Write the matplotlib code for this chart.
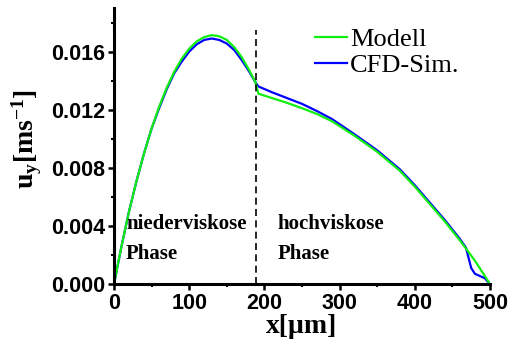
import numpy as np
import matplotlib
matplotlib.use('Agg')
import matplotlib.pyplot as plt
from matplotlib.ticker import MultipleLocator, FormatStrFormatter

plt.rcParams['mathtext.fontset'] = 'custom'
plt.rcParams['mathtext.rm'] = 'Liberation Serif'
plt.rcParams['mathtext.bf'] = 'Liberation Serif:bold'
plt.rcParams['mathtext.it'] = 'Liberation Serif:italic'

# Modell (green)
x_mod = [0, 10, 20, 30, 40, 50, 60, 70, 80, 90, 100, 110, 120, 130, 140,
         150, 160, 170, 180, 188, 192, 210, 230, 250, 270, 290, 320, 350,
         380, 400, 420, 440, 460, 470, 480, 490, 500]
u_mod = [0.0, 0.0026, 0.0050, 0.0071, 0.0090, 0.0107, 0.0122, 0.0135,
         0.0146, 0.0155, 0.0162, 0.0167, 0.0170, 0.01713, 0.01705, 0.0168,
         0.0163, 0.0156, 0.0147, 0.0139, 0.0131, 0.0128, 0.01247, 0.0121,
         0.0117, 0.0112, 0.0102, 0.0091, 0.0078, 0.0067, 0.0055, 0.0043,
         0.0030, 0.0023, 0.0016, 0.0008, 0.0]

# CFD-Sim. (blue)
x_cfd = [0, 10, 20, 30, 40, 50, 60, 70, 80, 90, 100, 110, 120, 130, 140,
         150, 160, 170, 180, 188, 192, 210, 230, 250, 270, 290, 320, 350,
         380, 400, 420, 440, 460, 468, 475, 480, 493, 500]
u_cfd = [0.0, 0.0026, 0.0050, 0.0071, 0.0090, 0.0107, 0.0121, 0.0134,
         0.0145, 0.0153, 0.0160, 0.0165, 0.0168, 0.0169, 0.0168, 0.01655,
         0.0161, 0.0154, 0.0146, 0.0139, 0.0136, 0.0132, 0.0128, 0.0124,
         0.0119, 0.01135, 0.0103, 0.0092, 0.0079, 0.0068, 0.0056, 0.0044,
         0.0031, 0.0025, 0.0011, 0.0007, 0.0004, 0.0]

# phase boundary
x_boundary = 189
u_boundary_top = 0.0175

fig = plt.figure(figsize=(5.14, 3.47), dpi=100)
ax = fig.add_axes([0.2218, 0.1816, 0.7315, 0.7954])

l_cfd, = ax.plot(x_cfd, u_cfd, color='#0000ff', lw=1.6, label='CFD-Sim.')
l_mod, = ax.plot(x_mod, u_mod, color='#11ee11', lw=1.6, label='Modell')
ax.plot([x_boundary, x_boundary], [0, u_boundary_top], color='black',
        lw=1.2, dashes=(4.2, 2.6))

ax.set_xlim(0, 500)
ax.set_ylim(0, 0.019)
ax.xaxis.set_major_locator(MultipleLocator(100))
ax.xaxis.set_minor_locator(MultipleLocator(50))
ax.yaxis.set_major_locator(MultipleLocator(0.004))
ax.yaxis.set_minor_locator(MultipleLocator(0.002))
ax.yaxis.set_major_formatter(FormatStrFormatter('%.3f'))

for s in ['top', 'right']:
    ax.spines[s].set_visible(False)
for s in ['left', 'bottom']:
    ax.spines[s].set_linewidth(2.2)

ax.tick_params(which='major', direction='out', length=4, width=1.8, pad=2.5)
ax.tick_params(which='minor', direction='out', length=2.5, width=1.5)
for lab in ax.get_xticklabels() + ax.get_yticklabels():
    lab.set_fontfamily('Liberation Sans')
    lab.set_fontweight('bold')
    lab.set_fontsize(15.5)

ax.set_xlabel('x[\u00b5m]', family='Liberation Serif', fontweight='bold',
              fontsize=20)
ax.xaxis.set_label_coords(0.5, -0.11)
ax.set_ylabel(r'$\mathbf{u_y[ms^{-1}]}$', fontsize=20)
ax.yaxis.set_label_coords(-0.185, 0.525)

txt = dict(family='Liberation Serif', fontweight='bold', fontsize=15)
ax.text(16, 0.0038, 'niederviskose', **txt)
ax.text(16, 0.0017, 'Phase', **txt)
ax.text(218, 0.0038, 'hochviskose', **txt)
ax.text(218, 0.0017, 'Phase', **txt)

ax.legend(handles=[l_mod, l_cfd], loc='upper left',
          bbox_to_anchor=(0.535, 0.93), frameon=False,
          prop={'family': 'Liberation Serif', 'size': 19},
          handlelength=1.2, handletextpad=0.12, labelspacing=0.12,
          borderpad=0, borderaxespad=0)

fig.savefig('out.png', dpi=100)
